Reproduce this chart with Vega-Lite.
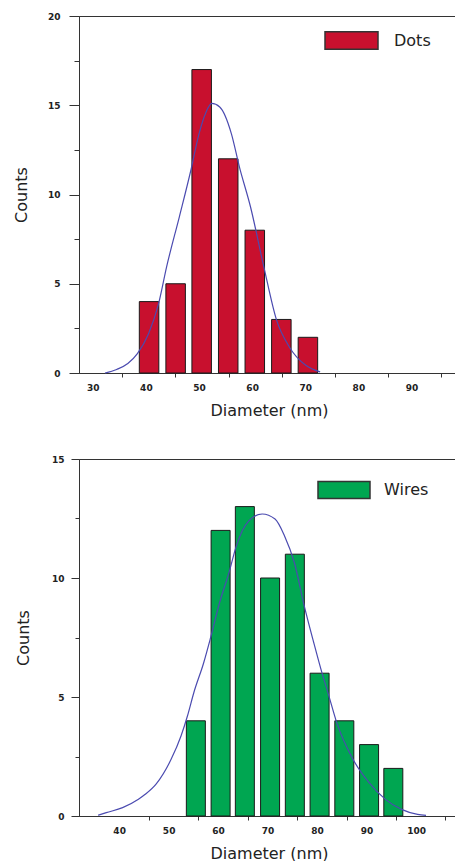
{
  "$schema": "https://vega.github.io/schema/vega-lite/v6.json",
  "padding": {"left": 12, "top": 11, "right": 0, "bottom": 0},
  "background": "white",
  "spacing": 35,
  "align": "none",
  "resolve": {"scale": {"color": "independent", "x": "independent", "y": "independent"}, "legend": {"color": "independent"}},
  "config": {
    "view": {"stroke": "#333", "strokeWidth": 1},
    "axis": {
      "grid": false,
      "domainColor": "#333",
      "tickColor": "#333",
      "labelColor": "#222",
      "labelFont": "DejaVu Sans",
      "labelFontWeight": "bold",
      "labelFontSize": 9,
      "titleFont": "DejaVu Sans",
      "titleFontWeight": "normal",
      "titleFontSize": 16,
      "titleColor": "#222",
      "labelOverlap": false,
      "labelFlush": false
    },
    "legend": {
      "labelFont": "DejaVu Sans",
      "labelFontSize": 16,
      "labelColor": "#222",
      "padding": 0
    }
  },
  "vconcat": [
    {
      "width": 380,
      "height": 357,
      "layer": [
        {
          "data": {"values": [
            {"d": 40.6, "n": 4, "s": "Dots"},
            {"d": 45.6, "n": 5, "s": "Dots"},
            {"d": 50.5, "n": 17, "s": "Dots"},
            {"d": 55.5, "n": 12, "s": "Dots"},
            {"d": 60.5, "n": 8, "s": "Dots"},
            {"d": 65.5, "n": 3, "s": "Dots"},
            {"d": 70.5, "n": 2, "s": "Dots"}
          ]},
          "mark": {"type": "bar", "size": 19.5, "stroke": "#1a1a1a", "strokeWidth": 1},
          "encoding": {
            "x": {"field": "d", "type": "quantitative",
              "scale": {"domain": [28.35, 98.0], "nice": false, "zero": false},
              "axis": {"title": "Diameter (nm)", "values": [30, 40, 50, 60, 70, 80, 90],
                "tickSize": 4, "tickOffset": 29.5, "labelOffset": -29.5, "labelPadding": 6, "titlePadding": 10}},
            "y": {"field": "n", "type": "quantitative",
              "scale": {"domain": [0, 20], "nice": false},
              "axis": {"title": "Counts", "values": [0, 2.5, 5, 7.5, 10, 12.5, 15, 17.5, 20],
                "labelExpr": "datum.value % 5 === 0 ? datum.label : ''",
                "tickSize": {"condition": {"test": "datum.value % 5 === 0", "value": 10}, "value": 5},
                "labelPadding": 9, "titlePadding": 18}},
            "color": {"field": "s", "type": "nominal",
              "scale": {"domain": ["Dots"], "range": ["#c8102e"]},
              "legend": {"title": null, "orient": "none", "legendX": 245, "legendY": -3,
                "symbolType": "M-1,-0.33H1V0.33H-1Z", "symbolSize": 2809,
                "symbolStrokeColor": "#333", "symbolStrokeWidth": 1.5, "symbolOpacity": 1,
                "labelOffset": 15}}
          }
        },
        {
          "data": {"values": [
            {"x": 32.3, "y": 0}, {"x": 34.5, "y": 0.2}, {"x": 36.6, "y": 0.53}, {"x": 38.4, "y": 1.09},
            {"x": 40.5, "y": 2.2}, {"x": 42.4, "y": 3.9}, {"x": 43.9, "y": 5.95}, {"x": 46.3, "y": 8.75},
            {"x": 48.5, "y": 11.4}, {"x": 50.0, "y": 13.4}, {"x": 51.3, "y": 14.6}, {"x": 52.4, "y": 15.1},
            {"x": 53.9, "y": 14.9}, {"x": 56.1, "y": 13.4}, {"x": 57.6, "y": 11.55}, {"x": 59.7, "y": 9.3},
            {"x": 62.2, "y": 5.95}, {"x": 64.6, "y": 2.96}, {"x": 67.0, "y": 1.46}, {"x": 70.1, "y": 0.43},
            {"x": 72.8, "y": 0.06}
          ]},
          "mark": {"type": "line", "color": "#4b4bb0", "strokeWidth": 1.2, "interpolate": "monotone"},
          "encoding": {
            "x": {"field": "x", "type": "quantitative"},
            "y": {"field": "y", "type": "quantitative"}
          }
        }
      ]
    },
    {
      "width": 380,
      "height": 357,
      "layer": [
        {
          "data": {"values": [
            {"d": 55.5, "n": 4, "s": "Wires"},
            {"d": 60.5, "n": 12, "s": "Wires"},
            {"d": 65.4, "n": 13, "s": "Wires"},
            {"d": 70.5, "n": 10, "s": "Wires"},
            {"d": 75.5, "n": 11, "s": "Wires"},
            {"d": 80.5, "n": 6, "s": "Wires"},
            {"d": 85.5, "n": 4, "s": "Wires"},
            {"d": 90.5, "n": 3, "s": "Wires"},
            {"d": 95.4, "n": 2, "s": "Wires"}
          ]},
          "mark": {"type": "bar", "size": 19, "stroke": "#1a1a1a", "strokeWidth": 1},
          "encoding": {
            "x": {"field": "d", "type": "quantitative",
              "scale": {"domain": [32.9, 107.66], "nice": false, "zero": false},
              "axis": {"title": "Diameter (nm)", "values": [40, 50, 60, 70, 80, 90, 100],
                "tickSize": 4, "tickOffset": 29.4, "labelOffset": -29.4, "labelPadding": 6, "titlePadding": 10}},
            "y": {"field": "n", "type": "quantitative",
              "scale": {"domain": [0, 15], "nice": false},
              "axis": {"title": "Counts", "values": [0, 2.5, 5, 7.5, 10, 12.5, 15],
                "labelExpr": "datum.value % 5 === 0 ? datum.label : ''",
                "tickSize": {"condition": {"test": "datum.value % 5 === 0", "value": 8}, "value": 4},
                "labelPadding": 7, "titlePadding": 20}},
            "color": {"field": "s", "type": "nominal",
              "scale": {"domain": ["Wires"], "range": ["#00a651"]},
              "legend": {"title": null, "orient": "none", "legendX": 238, "legendY": 4,
                "symbolType": "M-1,-0.33H1V0.33H-1Z", "symbolSize": 2704,
                "symbolStrokeColor": "#333", "symbolStrokeWidth": 1.5, "symbolOpacity": 1,
                "labelOffset": 13}}
          }
        },
        {
          "data": {"values": [
            {"x": 35.75, "y": 0.03}, {"x": 37.4, "y": 0.14}, {"x": 40.7, "y": 0.35}, {"x": 43.9, "y": 0.7},
            {"x": 45.2, "y": 0.9}, {"x": 47.5, "y": 1.35}, {"x": 50.5, "y": 2.38}, {"x": 52.5, "y": 3.36},
            {"x": 53.8, "y": 4.2}, {"x": 55.1, "y": 5.19}, {"x": 57.1, "y": 6.45}, {"x": 58.4, "y": 7.43},
            {"x": 60.3, "y": 8.97}, {"x": 62.3, "y": 10.3}, {"x": 63.6, "y": 11.3}, {"x": 66.2, "y": 12.4},
            {"x": 68.9, "y": 12.69}, {"x": 71.5, "y": 12.48}, {"x": 73.4, "y": 11.78}, {"x": 75.4, "y": 10.65},
            {"x": 77.4, "y": 8.83}, {"x": 79.3, "y": 7.3}, {"x": 81.0, "y": 6.0}, {"x": 82.3, "y": 5.1},
            {"x": 84.0, "y": 3.9}, {"x": 87.2, "y": 2.4}, {"x": 90.5, "y": 1.4}, {"x": 93.8, "y": 0.7},
            {"x": 97.05, "y": 0.28}, {"x": 100.3, "y": 0.07}, {"x": 102.0, "y": 0.03}
          ]},
          "mark": {"type": "line", "color": "#4b4bb0", "strokeWidth": 1.2, "interpolate": "monotone"},
          "encoding": {
            "x": {"field": "x", "type": "quantitative"},
            "y": {"field": "y", "type": "quantitative"}
          }
        }
      ]
    }
  ]
}
